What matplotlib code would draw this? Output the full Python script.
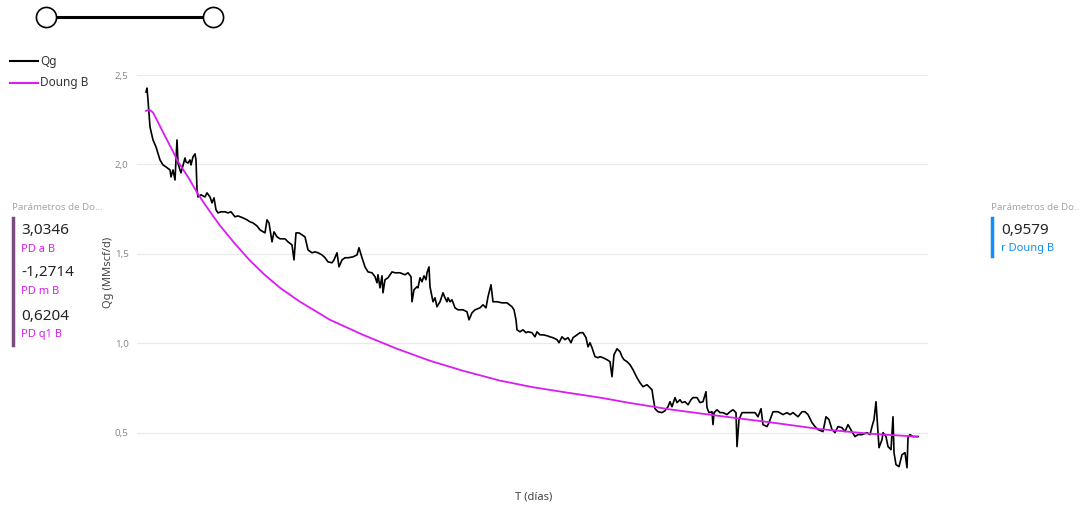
import matplotlib
matplotlib.use("Agg")
import matplotlib.pyplot as plt
from matplotlib.lines import Line2D

plt.rcParams['font.family'] = ['Noto Sans', 'DejaVu Sans']

# Qg measured (T in days, Qg in MMscf/d)
t_qg = [0, 1, 2, 4, 7, 10, 14, 17, 20, 24, 25, 27, 29, 30, 31, 32, 34, 35, 39, 40,
        42, 44, 45, 47, 49, 50, 51, 52, 55, 59, 61, 64, 66, 68, 70, 72, 75, 79, 82, 85,
        89, 92, 97, 101, 104, 107, 111, 114, 119, 121, 123, 126, 128, 131, 134, 139, 142, 146, 148, 150,
        153, 156, 159, 162, 166, 169, 172, 176, 179, 182, 186, 188, 191, 193, 196, 199, 202, 207, 211, 213,
        216, 219, 222, 226, 229, 231, 232, 234, 236, 237, 239, 242, 246, 249, 254, 259, 262, 265, 266, 268,
        271, 272, 274, 276, 278, 280, 281, 283, 284, 286, 287, 289, 291, 294, 297, 299, 301, 302, 304, 306,
        309, 312, 317, 321, 323, 326, 329, 334, 337, 340, 342, 345, 347, 351, 356, 361, 366, 368, 370, 371,
        374, 377, 380, 382, 386, 389, 391, 394, 397, 401, 404, 407, 411, 413, 416, 419, 422, 425, 427, 431,
        434, 437, 440, 442, 444, 446, 449, 452, 454, 457, 461, 464, 466, 468, 471, 474, 476, 478, 481, 484,
        487, 491, 494, 497, 501, 506, 507, 509, 512, 516, 519, 522, 524, 526, 529, 531, 534, 536, 539, 542,
        545, 547, 551, 554, 557, 560, 561, 563, 566, 567, 568, 571, 574, 577, 581, 584, 587, 590, 591, 593,
        596, 599, 602, 606, 609, 612, 615, 617, 621, 623, 627, 632, 637, 641, 644, 647, 652, 656, 659, 662,
        666, 669, 672, 677, 680, 683, 686, 689, 692, 696, 699, 702, 706, 709, 712, 716, 721, 724, 726, 728,
        730, 731, 733, 736, 737, 740, 742, 745, 747, 748, 750, 753, 756, 759, 761, 762, 764, 767, 772]
qg = [2.405, 2.427, 2.360, 2.209, 2.137, 2.098, 2.025, 1.997, 1.986, 1.969, 1.930, 1.969, 1.913, 2.025, 2.137, 2.008, 1.969, 1.953, 2.036, 2.014,
      2.008, 2.025, 1.997, 2.042, 2.059, 2.025, 1.858, 1.818, 1.830, 1.818, 1.841, 1.818, 1.785, 1.813, 1.746, 1.729, 1.735, 1.735, 1.729, 1.735,
      1.707, 1.712, 1.701, 1.690, 1.679, 1.673, 1.656, 1.634, 1.617, 1.690, 1.673, 1.567, 1.623, 1.595, 1.584, 1.584, 1.567, 1.550, 1.466, 1.617,
      1.617, 1.606, 1.595, 1.522, 1.506, 1.511, 1.506, 1.494, 1.478, 1.455, 1.450, 1.466, 1.506, 1.427, 1.466, 1.478, 1.478, 1.483, 1.494, 1.534,
      1.478, 1.427, 1.399, 1.394, 1.372, 1.338, 1.383, 1.310, 1.377, 1.282, 1.355, 1.366, 1.399, 1.394, 1.394, 1.383, 1.394, 1.372, 1.232, 1.299,
      1.316, 1.310, 1.366, 1.344, 1.377, 1.355, 1.394, 1.427, 1.316, 1.260, 1.232, 1.254, 1.204, 1.232, 1.282, 1.254, 1.232, 1.254, 1.232, 1.243,
      1.198, 1.187, 1.187, 1.176, 1.131, 1.170, 1.187, 1.198, 1.215, 1.198, 1.260, 1.327, 1.232, 1.232, 1.226, 1.226, 1.204, 1.187, 1.131, 1.075,
      1.064, 1.075, 1.059, 1.064, 1.059, 1.036, 1.064, 1.047, 1.047, 1.042, 1.036, 1.031, 1.020, 1.003, 1.036, 1.020, 1.031, 1.003, 1.031, 1.047,
      1.059, 1.059, 1.031, 0.980, 1.003, 0.975, 0.925, 0.919, 0.925, 0.919, 0.908, 0.897, 0.813, 0.936, 0.969, 0.953, 0.925, 0.908, 0.897, 0.880,
      0.852, 0.807, 0.779, 0.757, 0.768, 0.740, 0.701, 0.634, 0.617, 0.612, 0.623, 0.645, 0.673, 0.645, 0.696, 0.668, 0.684, 0.668, 0.673, 0.656,
      0.684, 0.696, 0.696, 0.668, 0.673, 0.729, 0.640, 0.612, 0.617, 0.545, 0.612, 0.628, 0.612, 0.612, 0.601, 0.617, 0.628, 0.612, 0.422, 0.573,
      0.612, 0.612, 0.612, 0.612, 0.612, 0.589, 0.634, 0.545, 0.534, 0.556, 0.617, 0.617, 0.601, 0.612, 0.601, 0.612, 0.589, 0.617, 0.617, 0.601,
      0.556, 0.534, 0.517, 0.506, 0.589, 0.573, 0.517, 0.500, 0.534, 0.528, 0.506, 0.545, 0.506, 0.478, 0.489, 0.489, 0.500, 0.489, 0.534, 0.573,
      0.673, 0.589, 0.416, 0.461, 0.500, 0.478, 0.422, 0.405, 0.589, 0.388, 0.321, 0.310, 0.377, 0.388, 0.304, 0.472, 0.489, 0.478, 0.478]

# Doung B fitted curve
t_doung = [0, 1, 4, 7, 12, 19, 25, 32, 42, 52, 59, 67, 74, 89, 104, 119, 134, 154, 184, 217,
           251, 284, 317, 354, 387, 421, 454, 484, 524, 574, 624, 674, 724, 771]
q_doung = [2.299, 2.302, 2.304, 2.290, 2.236, 2.158, 2.094, 2.016, 1.930, 1.834, 1.776, 1.712, 1.658, 1.556, 1.462, 1.381, 1.310, 1.232, 1.131, 1.047,
           0.969, 0.902, 0.846, 0.791, 0.754, 0.724, 0.696, 0.666, 0.630, 0.593, 0.558, 0.520, 0.494, 0.478]

y_ticks = [0.5, 1.0, 1.5, 2.0, 2.5]
y_tick_labels = ["0,5", "1,0", "1,5", "2,0", "2,5"]

left_card_values = ["3,0346", "-1,2714", "0,6204"]
left_card_names = ["PD a B", "PD m B", "PD q1 B"]
right_card_values = ["0,9579"]
right_card_names = ["r Doung B"]

MAGENTA = '#D91CF2'

fig = plt.figure(figsize=(10.8, 5.08), dpi=100)
ax = fig.add_axes([137 / 1080, 1 - 472 / 508, (928 - 137) / 1080, (472 - 75) / 508])

ax.plot(t_qg, qg, color='black', lw=1.2, zorder=3)
ax.plot(t_doung, q_doung, color=MAGENTA, lw=1.3, zorder=4)

ax.set_xlim(-9, 782)
ax.set_ylim(0.28, 2.5)
ax.set_yticks(y_ticks)
ax.set_yticklabels(y_tick_labels)
ax.set_xticks([])
ax.tick_params(axis='y', length=0, labelsize=7, labelcolor='#8a8a8a', pad=6)
ax.grid(axis='y', color='#e9e9e9', lw=0.9)
ax.set_axisbelow(True)
for s in ax.spines.values():
    s.set_visible(False)

fig.text(108 / 1080, 1 - 272 / 508, "Qg (MMscf/d)", rotation=90, ha='center', va='center',
         fontsize=8, color='#444444')
fig.text(534 / 1080, 1 - 497 / 508, "T (días)", ha='center', va='center', fontsize=8, color='#444444')

# legend
for i, (lab, col) in enumerate([("Qg", 'black'), ("Doung B", MAGENTA)]):
    y = 1 - (61 + 22 * i) / 508
    fig.add_artist(Line2D([10 / 1080, 38 / 1080], [y, y], color=col, lw=1.5))
    fig.text(40 / 1080, y, lab, ha='left', va='center', fontsize=8.5, color='#333333')

# slider
ys = 1 - 17 / 508
fig.add_artist(Line2D([46 / 1080, 213 / 1080], [ys, ys], color='black', lw=2.2))
fig.add_artist(Line2D([46 / 1080, 213 / 1080], [ys, ys], ls='none', marker='o', markersize=14.5,
                      markerfacecolor='white', markeredgecolor='black', markeredgewidth=1.2))

# left card
fig.text(12 / 1080, 1 - 208 / 508, "Parámetros de Do...", ha='left', va='center', fontsize=7, color='#a6a6a6')
fig.add_artist(Line2D([13 / 1080, 13 / 1080], [1 - 218 / 508, 1 - 345 / 508], color='#7B4A7E', lw=2.5))
for i, (v, n) in enumerate(zip(left_card_values, left_card_names)):
    y0 = 230 + 43 * i
    fig.text(21 / 1080, 1 - y0 / 508, v, ha='left', va='center', fontsize=11, color='#252423')
    fig.text(21 / 1080, 1 - (y0 + 19) / 508, n, ha='left', va='center', fontsize=8, color=MAGENTA)

# right card
fig.text(991 / 1080, 1 - 208 / 508, "Parámetros de Do...", ha='left', va='center', fontsize=7, color='#a6a6a6')
fig.add_artist(Line2D([992 / 1080, 992 / 1080], [1 - 218 / 508, 1 - 256 / 508], color='#118DFF', lw=2.5))
for v, n in zip(right_card_values, right_card_names):
    fig.text(1001 / 1080, 1 - 230 / 508, v, ha='left', va='center', fontsize=11, color='#252423')
    fig.text(1001 / 1080, 1 - 249 / 508, n, ha='left', va='center', fontsize=8, color='#118DFF')

fig.savefig("out.png", dpi=100)
